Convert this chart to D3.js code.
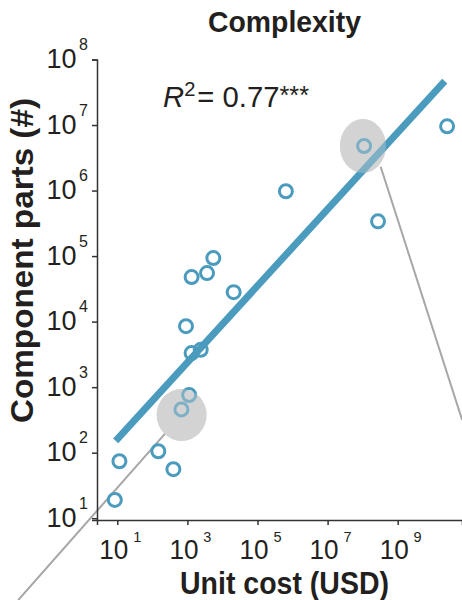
<!DOCTYPE html>
<html>
<head>
<meta charset="utf-8">
<script src="https://cdn.jsdelivr.net/npm/d3@7"></script>
<style>
  body { margin: 0; background: #fff; }
  text { fill: #231f20; font-family: "Liberation Sans", Arial, sans-serif; }
</style>
</head>
<body>
<div id="chart"></div>
<script>
const WIDTH = 462;
const HEIGHT = 600;

// data
const unitCost = [8.5, 11.5, 148, 398, 676, 1122, 912, 1318, 2399, 1318, 3631, 5495, 20893, 646000, 1.1e8, 2.75e8, 2.57e10];
const componentParts = [19, 74, 105, 56, 457, 759, 8511, 3311, 3715, 47863, 54954, 93325, 28184, 977000, 4.79e6, 3.39e5, 9.55e6];

// fitted line in log10 space: log(y) = intercept + slope * log(x)
const fitSlope = 0.585;
const fitIntercept = 1.621;
const fitRange = [9, 2.2e10];
const rSquared = "0.77";

const xTickValues = [1e1, 1e3, 1e5, 1e7, 1e9];
const xTickExponents = ["1", "3", "5", "7", "9"];
const yTickValues = [1e1, 1e2, 1e3, 1e4, 1e5, 1e6, 1e7, 1e8];
const yTickExponents = ["1", "2", "3", "4", "5", "6", "7", "8"];

// highlighted regions + connector lines (data units)
const highlightCenters = [[684, 377], [1.02e8, 4.79e6]];
const connectorStarts = [[684, 377], [3.27e8, 2.31e6]];
const connectorEnds = [[0.0148, 0.56], [6.9e10, 316]];

const BLUE = "#4a9bbd";

const svg = d3.select("#chart").append("svg")
  .attr("xmlns", "http://www.w3.org/2000/svg")
  .attr("width", WIDTH)
  .attr("height", HEIGHT);

const x = d3.scaleLog()
  .domain([Math.pow(10, 0.421), Math.pow(10, 10.835)])
  .range([97, 462]);

const y = d3.scaleLog()
  .domain([Math.pow(10, 0.9725), 1e8])
  .range([520, 59.5]);

// connectors (under the grey highlights)
svg.selectAll(".connector")
  .data(connectorStarts)
  .enter().append("line")
  .attr("class", "connector")
  .attr("x1", d => x(d[0]))
  .attr("y1", d => y(d[1]))
  .attr("x2", (d, i) => x(connectorEnds[i][0]))
  .attr("y2", (d, i) => y(connectorEnds[i][1]))
  .style("stroke", "#a7a7a7")
  .style("stroke-width", 2);

const ellipseSize = [[25, 26], [23, 27]];

svg.selectAll(".hl-under")
  .data(highlightCenters)
  .enter().append("ellipse")
  .attr("class", "hl-under")
  .attr("cx", d => x(d[0]))
  .attr("cy", d => y(d[1]))
  .attr("rx", (d, i) => ellipseSize[i][0])
  .attr("ry", (d, i) => ellipseSize[i][1])
  .style("fill", "#d3d3d3");

// axes
const xAxis = d3.axisBottom(x).tickValues(xTickValues).tickFormat("").tickSizeOuter(0).tickSize(5);
const yAxis = d3.axisLeft(y).tickValues(yTickValues).tickFormat("").tickSizeOuter(0).tickSize(5);

const gx = svg.append("g").attr("transform", "translate(0,520)").call(xAxis);
const gy = svg.append("g").attr("transform", "translate(97,0)").call(yAxis);
[gx, gy].forEach(g => {
  g.selectAll("path, line").style("stroke", "#333").style("stroke-width", 1.5);
});

// regression line
const fitLine = d3.line()
  .x(d => x(d))
  .y(d => y(Math.pow(10, fitIntercept + fitSlope * Math.log10(d))));

svg.append("path")
  .datum(fitRange)
  .attr("d", fitLine)
  .style("fill", "none")
  .style("stroke", BLUE)
  .style("stroke-width", 7);

// points
svg.selectAll(".pt")
  .data(unitCost)
  .enter().append("circle")
  .attr("class", "pt")
  .attr("cx", d => x(d))
  .attr("cy", (d, i) => y(componentParts[i]))
  .attr("r", 6.5)
  .style("fill", "none")
  .style("stroke", BLUE)
  .style("stroke-width", 3);

// translucent layer to wash out what sits inside the highlights
svg.selectAll(".hl-over")
  .data(highlightCenters)
  .enter().append("ellipse")
  .attr("class", "hl-over")
  .attr("cx", d => x(d[0]))
  .attr("cy", d => y(d[1]))
  .attr("rx", (d, i) => ellipseSize[i][0])
  .attr("ry", (d, i) => ellipseSize[i][1])
  .style("fill", "#d3d3d3")
  .style("opacity", 0.38);

// tick labels
const xl = svg.selectAll(".xlab")
  .data(xTickValues)
  .enter().append("text")
  .attr("class", "xlab")
  .attr("x", d => x(d) - 18)
  .attr("y", 559)
  .attr("textLength", 42)
  .attr("lengthAdjust", "spacingAndGlyphs")
  .style("font-size", "27px");
xl.append("tspan").text("10");
xl.append("tspan")
  .attr("dx", 5)
  .attr("dy", -17)
  .style("font-size", "15px")
  .text((d, i) => xTickExponents[i]);

const yl = svg.selectAll(".ylab")
  .data(yTickValues)
  .enter().append("text")
  .attr("class", "ylab")
  .attr("x", 88)
  .attr("y", d => y(d) + 8.5)
  .attr("text-anchor", "end")
  .style("font-size", "27px");
yl.append("tspan").text("10");
yl.append("tspan")
  .attr("dx", 2.5)
  .attr("dy", -18)
  .style("font-size", "16px")
  .text((d, i) => yTickExponents[i]);

// R squared note
const r2 = svg.append("text")
  .attr("x", 163)
  .attr("y", 106.5)
  .attr("textLength", 146)
  .attr("lengthAdjust", "spacingAndGlyphs")
  .style("font-size", "29px");
r2.append("tspan").style("font-style", "italic").text("R");
r2.append("tspan").attr("dy", -11).style("font-size", "20px").text("2");
r2.append("tspan").attr("dy", 11).attr("dx", 2).text("= " + rSquared);
r2.append("tspan").attr("dy", -3).style("font-size", "25px").text("***");

// titles
svg.append("text")
  .attr("x", 208)
  .attr("y", 31.5)
  .attr("textLength", 153)
  .attr("lengthAdjust", "spacingAndGlyphs")
  .style("font-size", "30px")
  .style("font-weight", "bold")
  .text("Complexity");

svg.append("text")
  .attr("x", 180)
  .attr("y", 594)
  .attr("textLength", 209)
  .attr("lengthAdjust", "spacingAndGlyphs")
  .style("font-size", "31px")
  .style("font-weight", "bold")
  .text("Unit cost (USD)");

svg.append("text")
  .attr("transform", "translate(33,423) rotate(-90)")
  .attr("textLength", 325)
  .attr("lengthAdjust", "spacingAndGlyphs")
  .style("font-size", "31px")
  .style("font-weight", "bold")
  .text("Component parts (#)");
</script>
</body>
</html>
